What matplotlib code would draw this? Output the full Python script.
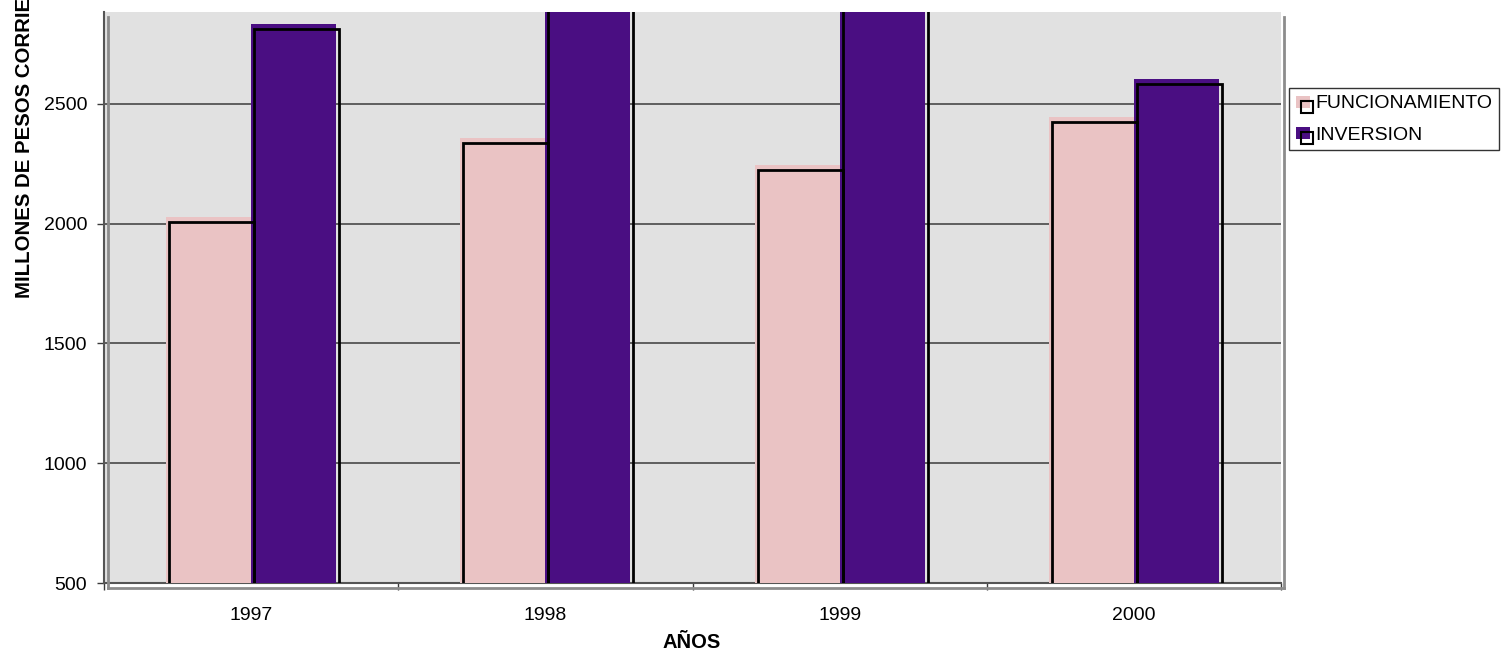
import numpy as np
import matplotlib
matplotlib.use('Agg')
import matplotlib.pyplot as plt
import matplotlib.transforms as mtransforms
from matplotlib.patches import Rectangle, Patch
from matplotlib.lines import Line2D
from matplotlib.legend_handler import HandlerBase

plt.rcParams['font.family'] = ['Liberation Sans', 'DejaVu Sans']

# datos
years = ['1997', '1998', '1999', '2000']
funcionamiento = [2030, 2360, 2245, 2445]
inversion = [2835, 3100, 3100, 2605]   # 1998 y 1999 salen del area visible
series_names = ['FUNCIONAMIENTO', 'INVERSION']

PINK = '#EAC3C4'
PURPLE = '#4A0E82'
BG = '#E1E1E1'

W, H = 1501, 663
fig = plt.figure(figsize=(W / 100, H / 100), dpi=100)


def fx(px):
    return px / W


def fy(py):
    return (H - py) / H


# area de trazado
ax = fig.add_axes([fx(104), fy(583), fx(1281) - fx(104), fy(12) - fy(583)])
ax.set_facecolor(BG)
ax.set_xlim(-0.5, 3.5)
ax.set_ylim(500, 2884)

x = np.arange(len(years))
bw = 0.289

ax.bar(x - bw / 2, funcionamiento, bw, bottom=0, color=PINK, zorder=3)
ax.bar(x + bw / 2, inversion, bw, bottom=0, color=PURPLE, zorder=3)

# contorno negro desplazado (efecto sombra de excel)
off = mtransforms.offset_copy(ax.transData, fig=fig, x=3, y=-5, units='dots')
clip = Rectangle((0, -0.02), 1, 1.011, transform=ax.transAxes)
for xs, vals in [(x - bw / 2, funcionamiento), (x + bw / 2, inversion)]:
    for xi, v in zip(xs, vals):
        r = Rectangle((xi - bw / 2, 500), bw, v - 500, fill=False,
                      edgecolor='black', linewidth=2, transform=off, zorder=4)
        r.set_clip_path(clip)
        ax.add_patch(r)

# rejilla
ax.set_yticks([500, 1000, 1500, 2000, 2500])
ax.yaxis.grid(True, color='#3a3a3a', linewidth=1.1)
ax.set_axisbelow(True)
ax.tick_params(axis='y', length=5, width=1, color='#3a3a3a', labelsize=14, pad=7)

ax.set_xticks(x)
ax.set_xticklabels(years)
ax.set_xticks(np.arange(-0.5, 4.0, 1.0), minor=True)
ax.tick_params(axis='x', which='major', length=0, labelsize=14, pad=17)
ax.tick_params(axis='x', which='minor', length=5, width=1, color='#3a3a3a')

for s in ['top', 'right']:
    ax.spines[s].set_visible(False)
ax.spines['left'].set_color('#555555')
ax.spines['bottom'].set_color('#555555')
ax.spines['left'].set_linewidth(1.5)
ax.spines['bottom'].set_linewidth(1.5)

# paredes grises del grafico 3d
wall = dict(color='#8c8c8c', linewidth=2, transform=fig.transFigure)
fig.add_artist(Line2D([fx(108), fx(108)], [fy(17), fy(588)], **wall))
fig.add_artist(Line2D([fx(108), fx(1284)], [fy(588), fy(588)], **wall))
fig.add_artist(Line2D([fx(1284), fx(1284)], [fy(17), fy(588)], **wall))

# titulos de ejes (el vertical queda cortado arriba, como en el original)
fig.text(fx(25), fy(298), 'MILLONES DE PESOS CORRIENTES', rotation=90,
         ha='center', va='bottom', fontsize=14.7, fontweight='bold')
fig.text(fx(692), fy(643), 'AÑOS', ha='center', va='center',
         fontsize=14.5, fontweight='bold')


# leyenda con el cuadrito desplazado
class ShadowBoxHandler(HandlerBase):
    def create_artists(self, legend, orig_handle, xdescent, ydescent,
                       width, height, fontsize, trans):
        s = 0.72
        x0, y0 = -xdescent, -ydescent
        top = y0 + height / 2 + 6 * s
        fill = Rectangle((x0, top - 12 * s), 14 * s, 12 * s,
                         facecolor=orig_handle.get_facecolor(),
                         edgecolor='none', transform=trans)
        edge = Rectangle((x0 + 5 * s, top - 17 * s), 12 * s, 12 * s,
                         fill=False, edgecolor='black', linewidth=1.5,
                         transform=trans)
        return [fill, edge]


handles = [Patch(facecolor=PINK), Patch(facecolor=PURPLE)]
leg = fig.legend(handles, series_names, loc='upper left',
                 bbox_to_anchor=(fx(1289), fy(88)), borderaxespad=0,
                 fontsize=14, frameon=True, fancybox=False,
                 edgecolor='black', borderpad=0.35, labelspacing=0.7,
                 handlelength=0.95, handleheight=0.7, handletextpad=0.05,
                 handler_map={Patch: ShadowBoxHandler()})
leg.get_frame().set_linewidth(1)

plt.savefig('out.png', dpi=100)
